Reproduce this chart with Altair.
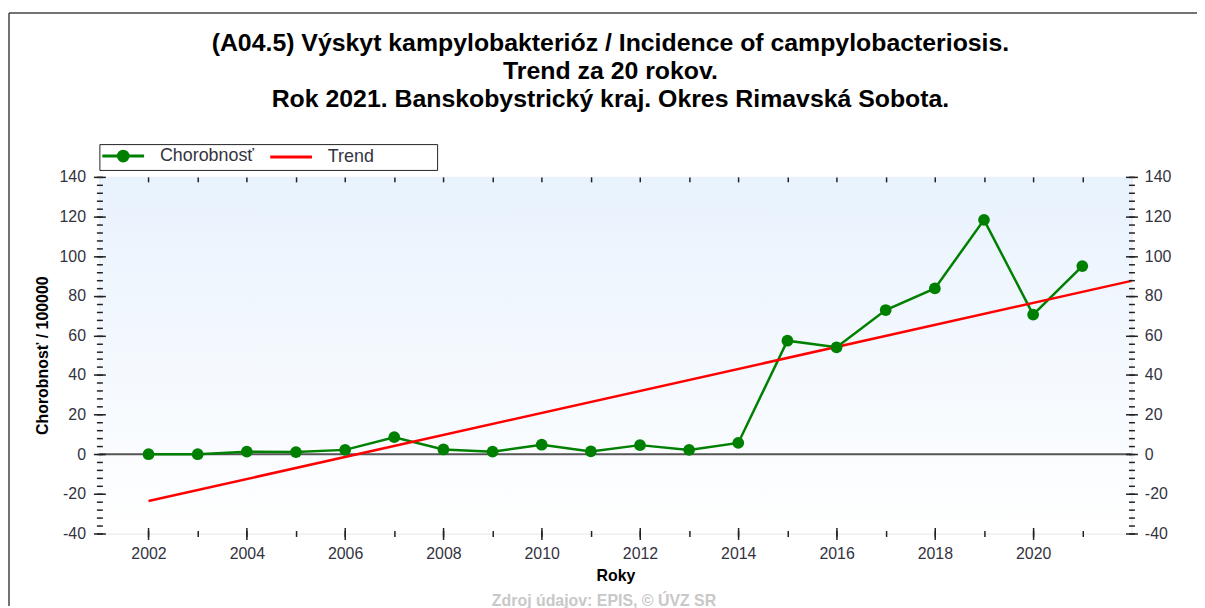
import altair as alt
import pandas as pd

# ---------------- data ----------------
years = list(range(2002, 2022))
incidence = [0, 0, 1.3, 1.1, 2.2, 8.6, 2.4, 1.3, 4.8, 1.4, 4.6, 2.2, 5.7,
             57.3, 54.0, 72.8, 83.7, 118.3, 70.5, 95.0]
trend_years = [2002, 2022]
trend_values = [-23.6, 87.5]
series_names = ["Chorobnosť", "Trend"]
series_colors = ["#008000", "#ff0000"]
x_major = list(range(2002, 2022, 2))
y_major = list(range(-40, 141, 20))
y_minor = list(range(-40, 141, 4))
title_lines = [
    "(A04.5) Výskyt kampylobakterióz / Incidence of campylobacteriosis.",
    "Trend za 20 rokov.",
    "Rok 2021. Banskobystrický kraj. Okres Rimavská Sobota.",
]
x_title = "Roky"
y_title = "Chorobnosť / 100000"
footer = "Zdroj údajov: EPIS, © ÚVZ SR"

# ---------------- tables ----------------
df_main = pd.DataFrame({"series": series_names[0], "year": years, "value": incidence})
df_trend = pd.DataFrame({"series": series_names[1], "year": trend_years, "value": trend_values})
df_lines = pd.concat([df_main, df_trend], ignore_index=True)

W, H = 1039, 359
FONT = "Liberation Sans"
LABEL_COLOR = "#333340"
PLAIN_MINUS = "'' + datum.value"

xs = alt.Scale(domain=[2001, 2022], nice=False, zero=False)
ys = alt.Scale(domain=[-40, 140], nice=False, zero=False)

tick_common = dict(domain=False, grid=False, tickColor="#222222", tickWidth=1.5, zindex=2)

x_major_axis = alt.Axis(orient="bottom", values=x_major, format="d", offset=-6, tickSize=12,
                        labelFont=FONT, labelFontSize=16, labelColor=LABEL_COLOR, labelPadding=6,
                        title=x_title, titleFont=FONT, titleFontSize=16, titleFontWeight="bold",
                        titleColor="black", titleX=W / 2, titleY=48, titleBaseline="middle",
                        titleAlign="center", **tick_common)
x_minor_axis = alt.Axis(orient="bottom", values=years, offset=-3, tickSize=6, labels=False,
                        title=None, **tick_common)
x_top_axis = alt.Axis(orient="top", values=years, offset=-5, tickSize=5, labels=False,
                      title=None, **tick_common)

y_major_left = alt.Axis(orient="left", values=y_major, offset=-6, tickSize=12, labelExpr=PLAIN_MINUS,
                        labelFont=FONT, labelFontSize=16, labelColor=LABEL_COLOR, labelPadding=8,
                        title=y_title, titleFont=FONT, titleFontSize=16, titleFontWeight="bold",
                        titleColor="black", titleX=-63, titleY=H / 2, titleAngle=270,
                        titleAlign="center", titleBaseline="middle", **tick_common)
y_minor_left = alt.Axis(orient="left", values=y_minor, offset=-3, tickSize=6, labels=False,
                        title=None, **tick_common)
y_major_right = alt.Axis(orient="right", values=y_major, offset=-6, tickSize=12, labelExpr=PLAIN_MINUS,
                         labelFont=FONT, labelFontSize=16, labelColor=LABEL_COLOR, labelPadding=7,
                         title=None, **tick_common)
y_minor_right = alt.Axis(orient="right", values=y_minor, offset=-3, tickSize=6, labels=False,
                         title=None, **tick_common)

# legend symbols: wide paths drawn at a small symbol size (scale = sqrt(size)/2 = 7 px)
dot_path = "M-3,0H3M0.7,0A0.7,0.7,0,1,1,-0.7,0A0.7,0.7,0,1,1,0.7,0Z"
dash_path = "M-3,0H3"
# non-breaking spaces + zero-width space widen the legend box to the right
trend_pad = "Trend" + "\u00a0" * 12 + "\u200b"

legend = alt.Legend(
    title=None, orient="none", legendX=0, legendY=-33, direction="horizontal",
    strokeColor="#222222", fillColor="white", padding=3,
    labelFont=FONT, labelFontSize=18, labelColor=LABEL_COLOR,
    symbolSize=196, symbolStrokeWidth=3, symbolOpacity=1, symbolType=dash_path,
    symbolOffset=12, labelOffset=28, columnPadding=10,
    labelExpr="datum.label == 'Trend' ? '" + trend_pad + "' : datum.label",
)
legend_scale = alt.Scale(domain=series_names, range=series_colors)

one = pd.DataFrame({"k": [0]})

bg = alt.Chart(one).mark_rect(
    fill=alt.Gradient(gradient="linear",
                      stops=[alt.GradientStop(color="#e8f2fd", offset=0),
                             alt.GradientStop(color="#ffffff", offset=1)],
                      x1=0, x2=0, y1=0, y2=1)
).encode(x=alt.value(0), x2=alt.value(W), y=alt.value(0), y2=alt.value(H))

zero_rule = alt.Chart(pd.DataFrame({"v": [0]})).mark_rule(color="#555555", strokeWidth=2).encode(
    y=alt.Y("v:Q", scale=ys, axis=None))

lines = alt.Chart(df_lines).mark_line(strokeWidth=2.5).encode(
    x=alt.X("year:Q", scale=xs, axis=x_major_axis),
    y=alt.Y("value:Q", scale=ys, axis=y_major_left),
    color=alt.Color("series:N", scale=legend_scale, legend=legend),
)

points = alt.Chart(df_main).mark_point(filled=True, size=140, color="#008000", opacity=1).encode(
    x=alt.X("year:Q", scale=xs, axis=x_minor_axis),
    y=alt.Y("value:Q", scale=ys, axis=y_minor_left),
)

guide1 = alt.Chart(df_main).mark_point(opacity=0).encode(
    x=alt.X("year:Q", scale=xs, axis=x_top_axis),
    y=alt.Y("value:Q", scale=ys, axis=y_major_right),
)
guide2 = alt.Chart(df_main).mark_point(opacity=0).encode(
    x=alt.X("year:Q", scale=xs, axis=None),
    y=alt.Y("value:Q", scale=ys, axis=y_minor_right),
)

legend_layer = alt.Chart(df_lines).mark_point(opacity=0, filled=True).encode(
    x=alt.X("year:Q", scale=xs, axis=None),
    y=alt.Y("value:Q", scale=ys, axis=None),
    fill=alt.Fill("series:N", scale=legend_scale, legend=legend),
    stroke=alt.Stroke("series:N", scale=legend_scale, legend=legend),
    shape=alt.Shape("series:N", scale=alt.Scale(domain=series_names, range=[dot_path, dash_path]),
                    legend=legend),
)

foot = alt.Chart(pd.DataFrame({"t": [footer]})).mark_text(
    font=FONT, fontSize=16, fontWeight="bold", color="#c8c8c8", align="center", baseline="middle"
).encode(text="t:N", x=alt.value(508), y=alt.value(427))

border_left = alt.Chart(one).mark_rule(color="#444444", strokeWidth=1.5).encode(
    x=alt.value(-91), y=alt.value(-165), y2=alt.value(432))
border_top = alt.Chart(one).mark_rule(color="#444444", strokeWidth=1.5).encode(
    x=alt.value(-91), x2=alt.value(1105), y=alt.value(-165))

chart = alt.layer(
    bg, zero_rule, lines, points, guide1, guide2, legend_layer, foot, border_left, border_top
).resolve_axis(x="independent", y="independent").properties(
    width=W, height=H,
    title=alt.TitleParams(text=title_lines, font=FONT, fontSize=25, fontWeight="bold",
                          color="black", anchor="middle", lineHeight=28, offset=-100, dx=-5),
    autosize=alt.AutoSizeParams(type="none"),
    padding={"left": 92, "top": 168, "right": 66, "bottom": 73},
).configure_view(stroke="#222222", strokeWidth=1.5).configure(background="white")

chart.save("out.html", embed_options={"renderer": "svg", "actions": False})
